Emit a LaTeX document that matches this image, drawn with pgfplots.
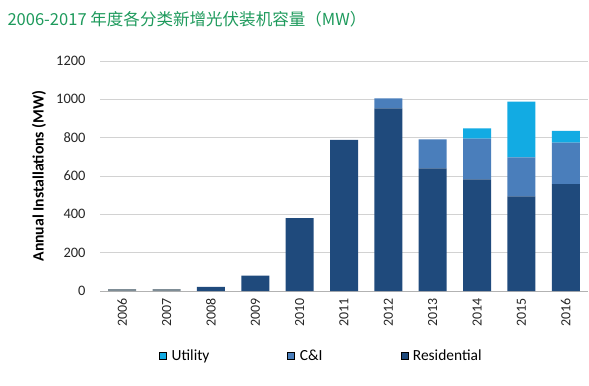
\documentclass[border=0pt]{standalone}
\usepackage{pgfplots}
\pgfplotsset{compat=1.18}
\usepackage{fontspec}
\setmainfont{Carlito}
\newfontfamily\cjk{Noto Sans CJK SC}
\definecolor{res}{HTML}{1F4A7C}
\definecolor{ci}{HTML}{4A7EBB}
\definecolor{util}{HTML}{12ABE3}
\definecolor{early}{HTML}{7F8D96}
\definecolor{titlegreen}{HTML}{1E9A5C}
\begin{document}
\begin{tikzpicture}[x=1bp,y=1bp]
\path[use as bounding box] (0,0) rectangle (589,385);
\node[anchor=west,text=titlegreen,font=\cjk\fontsize{16.6}{18}\selectfont] at (4,366) {2006-2017 年度各分类新增光伏装机容量（MW）};
\begin{axis}[
  at={(100bp,94bp)}, anchor=south west,
  scale only axis, width=488bp, height=230bp,
  ybar stacked, bar width=28bp,
  xmin=-0.5, xmax=10.5, ymin=0, ymax=1200,
  ytick={0,200,...,1200},
  xtick={0,...,10},
  xticklabels={2006,2007,2008,2009,2010,2011,2012,2013,2014,2015,2016},
  x tick label style={rotate=90, anchor=east, font=\fontsize{14}{16}\selectfont, text=black!85, xshift=-4bp},
  y tick label style={font=\fontsize{14.5}{16}\selectfont, text=black!85, xshift=-11bp},
  /pgf/number format/assume math mode=true,
  /pgf/number format/1000 sep={},
  ymajorgrids, major grid style={gray!35, line width=0.6pt},
  axis y line*=left, y axis line style={draw=none}, ytick style={draw=none},
  axis x line*=bottom,
  x axis line style={gray!60, line width=0.6pt},
  extra x ticks={-0.5,0.5,...,10.5}, extra x tick labels={},
  extra x tick style={major tick length=4bp, tick style={gray!60}, grid=none},
  xtick style={draw=none},
  ylabel={\textbf{Annual Installations (MW)}},
  ylabel style={font=\fontsize{15.8}{17}\selectfont, at={(axis description cs:-0.125,0.5)}, anchor=center},
  legend columns=3,
  legend style={draw=none, fill=none, at={(0.115,-0.283)}, anchor=west,
    font=\fontsize{15.5}{17}\selectfont,
    /tikz/every odd column/.append style={column sep=3bp},
    /tikz/every even column/.append style={column sep=76bp}},
  legend image code/.code={\fill[#1] (0bp,-3.5bp) rectangle (7bp,3.5bp);},
]
\addlegendimage{fill=util}\addlegendentry{Utility}
\addlegendimage{fill=ci}\addlegendentry{C\&I}
\addlegendimage{fill=res}\addlegendentry{Residential}
\addplot[fill=early, draw=none, forget plot] coordinates {(0,10) (1,10) (2,0) (3,0) (4,0) (5,0) (6,0) (7,0) (8,0) (9,0) (10,0)};
\addplot[fill=res, draw=none, forget plot] coordinates {(0,0) (1,0) (2,22) (3,80) (4,380) (5,788) (6,953) (7,640) (8,583) (9,494) (10,557)};
\addplot[fill=ci, draw=none, forget plot] coordinates {(0,0) (1,0) (2,0) (3,0) (4,0) (5,0) (6,52) (7,151) (8,212) (9,203) (10,217)};
\addplot[fill=util, draw=none, forget plot] coordinates {(0,0) (1,0) (2,0) (3,0) (4,0) (5,0) (6,0) (7,0) (8,54) (9,291) (10,62)};
\end{axis}
\end{tikzpicture}
\end{document}
